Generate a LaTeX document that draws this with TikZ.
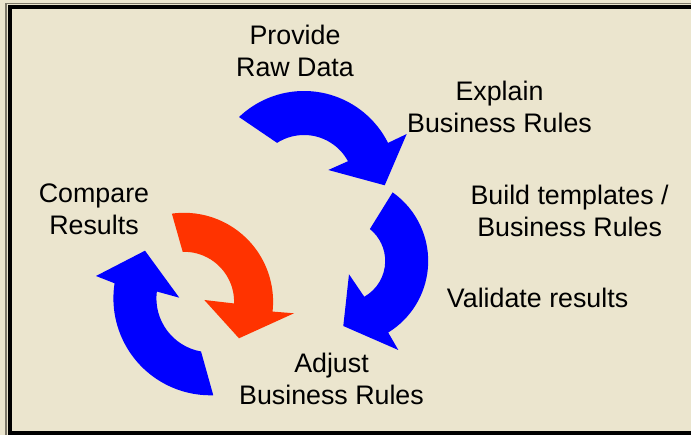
\documentclass[tikz,border=0pt]{standalone}
\usepackage{fontspec}
\setmainfont{Liberation Sans}
\definecolor{paper}{RGB}{235,229,206}
\definecolor{framegray}{RGB}{125,120,105}
\definecolor{cycleblue}{RGB}{0,0,255}
\definecolor{cyclered}{RGB}{255,51,0}

\begin{document}
\begin{tikzpicture}[x=1pt, y=1pt,
  steplabel/.style={anchor=north, inner sep=0pt, align=center, font=\fontsize{26.8}{32}\selectfont},
  bluearrow/.style={fill=cycleblue},
  redarrow/.style={fill=cyclered}]

\useasboundingbox (0,0) rectangle (691,435);
\clip (0,0) rectangle (691,435);
\fill[paper] (0,0) rectangle (691,435);

% frame
\draw[framegray, line width=1.8pt] (6,0) -- (6,431.5) -- (691,431.5);
\draw[line width=4pt] (9.5,2.3) rectangle (720,428);

% arc centres
\coordinate (ctop) at (304,250);
\coordinate (cright) at (344.2,174);
\coordinate (cred) at (184.1,133.2);
\coordinate (cleft) at (210.4,136.7);

% top arrow: raw data -> business rules
\fill[bluearrow] ([shift={(133.7:94)}]ctop) arc[start angle=133.7, end angle=26.6, radius=94]
  -- (406.7,301) -- (384.7,249.7) -- (328.3,265)
  -- ([shift={(28.4:50)}]ctop) arc[start angle=28.4, end angle=122.6, radius=50] -- cycle;

% right arrow: build templates -> validate -> adjust
\fill[bluearrow] ([shift={(54.8:84)}]cright) arc[start angle=54.8, end angle=-58.4, radius=84]
  -- (398.3,85) -- (343.3,109) -- (349,160.7)
  -- ([shift={(-60.7:41)}]cright) arc[start angle=-60.7, end angle=51.2, radius=41] -- cycle;

% left arrow: adjust -> compare
\fill[bluearrow] ([shift={(271.7:97)}]cleft) arc[start angle=271.7, end angle=171.1, radius=97]
  -- (96,159) -- (145,184.3) -- (179.3,137.3)
  -- ([shift={(172.8:54)}]cleft) arc[start angle=172.8, end angle=260, radius=54] -- cycle;

% inner loop (red)
\fill[redarrow] ([shift={(97.9:89)}]cred) arc[start angle=97.9, end angle=-6.3, radius=89]
  -- (294,121.7) -- (239,96.7) -- (204.3,135)
  -- ([shift={(-1.9:50)}]cred) arc[start angle=-1.9, end angle=91.6, radius=50] -- cycle;

% labels
\node[steplabel] (rawdata) at (295,410) {Provide\\Raw Data};
\node[steplabel] (explain) at (499.5,354) {Explain\\Business Rules};
\node[steplabel] (build) at (569.6,250) {Build templates /\\Business Rules};
\node[steplabel] (validate) at (537.6,147) {Validate results};
\node[steplabel] (adjust) at (331.5,82) {Adjust\\Business Rules};
\node[steplabel] (compare) at (94,251) {Compare\\Results};

\end{tikzpicture}
\end{document}
